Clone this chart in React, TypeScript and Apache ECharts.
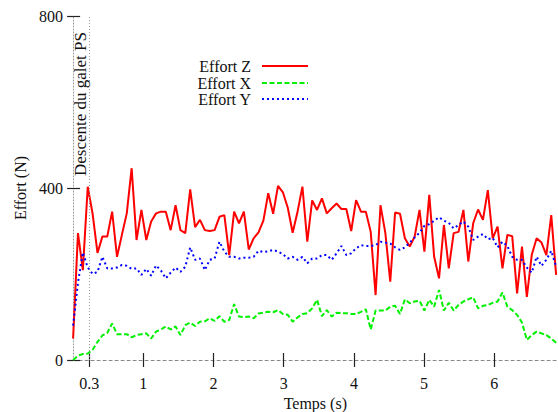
import React, { useEffect, useRef } from "react";
import * as echarts from "echarts";

const FONT = '"Liberation Serif", "Times New Roman", serif';
const TEXT_COLOR = "#111";

// sampling step of the measurements (s)
const DT = 0.0695;

const SERIES_NAMES = ["Effort Z", "Effort X", "Effort Y"];

const effortZ = [
  50, 295, 209, 403, 340, 249, 287, 287, 345, 240,
  291, 341, 446, 279, 349, 279, 322, 341, 345, 345,
  302, 360, 302, 295, 397, 309, 326, 302, 300, 302,
  333, 337, 244, 345, 318, 345, 257, 283, 297, 324,
  388, 340, 405, 390, 354, 296, 345, 403, 275, 371,
  349, 376, 341, 353, 364, 351, 351, 300, 372, 345,
  345, 298, 151, 360, 295, 182, 343, 340, 283, 264,
  287, 349, 252, 384, 240, 190, 314, 213, 295, 298,
  349, 229, 318, 350, 326, 395, 283, 310, 213, 291,
  288, 155, 264, 147, 244, 283, 273, 244, 337, 198,
];

const effortX = [
  0, 10, 14, 15, 24, 42, 57, 63, 85, 60,
  60, 60, 53, 58, 60, 62, 50, 66, 71, 78,
  71, 78, 58, 81, 87, 79, 89, 90, 97, 91,
  102, 89, 93, 130, 101, 100, 101, 97, 108, 110,
  112, 111, 116, 107, 105, 89, 99, 107, 109, 120,
  140, 102, 116, 101, 110, 109, 109, 107, 107, 112,
  118, 71, 115, 115, 115, 124, 126, 107, 141, 132,
  136, 138, 115, 140, 124, 163, 115, 133, 115, 128,
  136, 141, 146, 120, 126, 128, 133, 136, 157, 124,
  116, 105, 87, 47, 58, 66, 62, 58, 50, 40,
];

const effortY = [
  80, 180, 250, 215, 200, 205, 240, 213, 213, 215,
  221, 219, 212, 213, 198, 212, 196, 220, 208, 190,
  203, 215, 205, 217, 262, 233, 236, 209, 233, 236,
  275, 252, 240, 240, 236, 238, 238, 240, 254, 251,
  253, 256, 252, 246, 236, 240, 233, 240, 225, 236,
  236, 244, 244, 233, 248, 265, 244, 248, 260, 267,
  265, 265, 267, 275, 273, 271, 262, 256, 262, 273,
  285, 296, 312, 316, 324, 332, 324, 319, 306, 314,
  322, 310, 279, 287, 293, 281, 284, 262, 275, 265,
  240, 233, 233, 215, 203, 240, 219, 233, 254, 217,
];

const TIME = effortZ.map((_, i) => +(i * DT).toFixed(4));

const X_TICK_VALUES = [0.23, 1, 2, 3, 4, 5, 6];
const X_TICK_LABELS = ["0.3", "1", "2", "3", "4", "5", "6"];
const X_MIN = 0;
const X_MAX = 6.9;
const Y_MIN = 0;
const Y_MAX = 800;
const Y_INTERVAL = 400;

const MARKER_TIME = 0.23;
const MARKER_LABEL = "Descente du galet PS";

const X_NAME = "Temps (s)";
const Y_NAME = "Effort (N)";

const COLORS = ["#ff0000", "#00f000", "#0000ff"];
const LINE_TYPES: any[] = ["solid", [5, 2.5], [2, 3]];

export default function App() {
  const ref = useRef<HTMLDivElement>(null);

  useEffect(() => {
    document.body.style.margin = "0";
    if (!ref.current) return;
    const chart = echarts.init(ref.current, undefined, { renderer: "svg" });

    const tickLine = { color: "#222", width: 1.2 };
    const labelFmt = (v: number) => {
      const k = X_TICK_VALUES.findIndex((t) => Math.abs(t - v) < 1e-6);
      return k >= 0 ? X_TICK_LABELS[k] : "";
    };

    const seriesData = [effortZ, effortX, effortY];

    const option: any = {
      animation: false,
      textStyle: { fontFamily: FONT },
      grid: {
        left: 73.1,
        top: 16,
        right: 0.5,
        bottom: 52,
        containLabel: false,
        outerBoundsMode: "none",
      },
      xAxis: [
        {
          type: "value",
          min: X_MIN,
          max: X_MAX,
          position: "bottom",
          name: X_NAME,
          nameLocation: "middle",
          nameGap: 28,
          nameTextStyle: { fontSize: 16, color: TEXT_COLOR, fontFamily: FONT },
          axisLine: { show: true, lineStyle: { color: "#888", type: [3, 3], width: 1 } },
          axisTick: { show: true, inside: false, length: 7, customValues: X_TICK_VALUES, lineStyle: tickLine },
          axisLabel: {
            customValues: X_TICK_VALUES,
            formatter: labelFmt,
            margin: 15,
            fontSize: 16,
            color: TEXT_COLOR,
            fontFamily: FONT,
          },
          splitLine: { show: false },
        },
        {
          type: "value",
          min: X_MIN,
          max: X_MAX,
          position: "bottom",
          axisLine: { show: false },
          axisTick: { show: true, inside: true, length: 7, customValues: X_TICK_VALUES, lineStyle: tickLine },
          axisLabel: { show: false },
          splitLine: { show: false },
        },
      ],
      yAxis: [
        {
          type: "value",
          min: Y_MIN,
          max: Y_MAX,
          interval: Y_INTERVAL,
          position: "left",
          name: Y_NAME,
          nameLocation: "middle",
          nameGap: 45,
          nameRotate: 90,
          nameTextStyle: { fontSize: 16, color: TEXT_COLOR, fontFamily: FONT },
          axisLine: { show: true, lineStyle: { color: "#999", type: [1, 2], width: 1 } },
          axisTick: { show: true, inside: false, length: 6, lineStyle: tickLine },
          axisLabel: { margin: 10, fontSize: 16, color: TEXT_COLOR, fontFamily: FONT },
          splitLine: { show: false },
        },
        {
          type: "value",
          min: Y_MIN,
          max: Y_MAX,
          interval: Y_INTERVAL,
          position: "left",
          axisLine: { show: false },
          axisTick: { show: true, inside: true, length: 7, lineStyle: tickLine },
          axisLabel: { show: false },
          splitLine: { show: false },
        },
      ],
      legend: SERIES_NAMES.map((name, k) => ({
        data: [name],
        orient: "vertical",
        right: 249,
        top: [58, 75, 91][k],
        padding: 0,
        align: "right",
        itemWidth: 46,
        itemHeight: 14,
        selectedMode: false,
        itemStyle: { opacity: 0 },
        textStyle: { fontSize: 16, color: TEXT_COLOR, fontFamily: FONT, padding: [0, 6, 0, 0] },
      })),
      series: SERIES_NAMES.map((name, k) => ({
        name,
        type: "line",
        xAxisIndex: 0,
        yAxisIndex: 0,
        data: seriesData[k].map((v, i) => [TIME[i], v]),
        symbol: "none",
        showSymbol: false,
        color: COLORS[k],
        lineStyle: { color: COLORS[k], width: 2, type: LINE_TYPES[k] },
        z: 2 + k,
        markLine:
          k === 0
            ? {
                silent: true,
                symbol: "none",
                label: { show: false },
                lineStyle: { color: "#999", type: [1, 2], width: 1 },
                data: [{ xAxis: MARKER_TIME }],
              }
            : undefined,
      })),
      graphic: [
        {
          type: "text",
          x: 80,
          y: 104,
          rotation: Math.PI / 2,
          style: {
            text: MARKER_LABEL,
            font: `17px ${FONT}`,
            fill: TEXT_COLOR,
            align: "center",
            verticalAlign: "middle",
          },
        },
      ],
    };

    chart.setOption(option);
    return () => chart.dispose();
  }, []);

  return <div ref={ref} style={{ width: 558, height: 412 }} />;
}
